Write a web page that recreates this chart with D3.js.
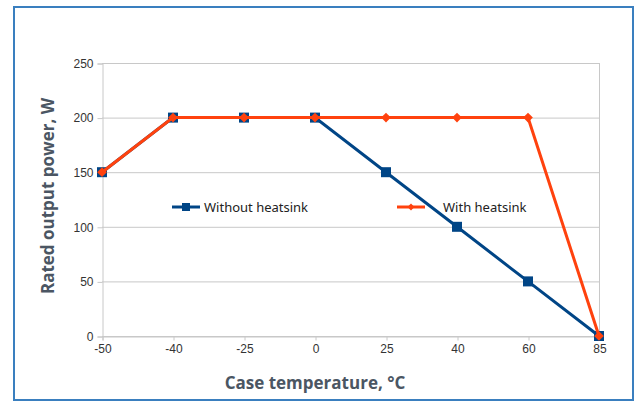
<!DOCTYPE html>
<html>
<head>
<meta charset="utf-8">
<script src="https://cdn.jsdelivr.net/npm/d3@7"></script>
<style>
  body { margin: 0; background: #fff; }
  svg { display: block; }
</style>
</head>
<body>
<div class="content"></div>
<script>
(function () {
    'use strict';
    var temps = ["-50", "-40", "-25", "0", "25", "40", "60", "85"],
        withoutHeatsink = [150, 200, 200, 200, 150, 100, 50, 0],
        withHeatsink = [150, 200, 200, 200, 200, 200, 200, 0],
        yTicks = [0, 50, 100, 150, 200, 250],
        seriesNames = ["Without heatsink", "With heatsink"];

    var width = 637, height = 402,
        plot = {left: 102, right: 599, top: 63, bottom: 336},
        colors = {blue: "#004586", orange: "#ff420e", grid: "#c8c8c8", frame: "#3a7fbf"};

    var svg = d3.select(".content").append("svg")
        .attr("width", width)
        .attr("height", height);

    // outer frame
    svg.append("rect")
        .attr("x", 14).attr("y", 7)
        .attr("width", 619).attr("height", 393)
        .attr("fill", "#fff")
        .attr("stroke", colors.frame)
        .attr("stroke-width", 2);

    var x = d3.scalePoint().domain(temps).range([plot.left, plot.right]).padding(0);
    var y = d3.scaleLinear().domain([0, 250]).range([plot.bottom, plot.top]);

    // grid
    svg.append("g").selectAll("line").data(yTicks).enter().append("line")
        .attr("x1", plot.left).attr("x2", plot.right)
        .attr("y1", function (d) { return y(d) + 0.5; })
        .attr("y2", function (d) { return y(d) + 0.5; })
        .attr("stroke", colors.grid);
    svg.append("line")
        .attr("x1", plot.right + 0.5).attr("x2", plot.right + 0.5)
        .attr("y1", plot.top).attr("y2", plot.bottom)
        .attr("stroke", colors.grid);

    // axes
    var yAxis = svg.append("g")
        .attr("transform", "translate(" + (plot.left + 0.5) + ",0.5)")
        .call(d3.axisLeft(y).tickValues(yTicks).tickSize(5).tickPadding(4));
    var xAxis = svg.append("g")
        .attr("transform", "translate(0.5," + (plot.bottom + 0.5) + ")")
        .call(d3.axisBottom(x).tickSize(4).tickPadding(4));
    [yAxis, xAxis].forEach(function (ax) {
        ax.select(".domain").attr("stroke", colors.grid);
        ax.selectAll(".tick line").attr("stroke", colors.grid);
        ax.selectAll("text")
            .attr("fill", "#333")
            .style("font-family", "Liberation Sans, Arial, sans-serif")
            .style("font-size", "12px");
    });

    // axis titles
    svg.append("text")
        .attr("x", 315).attr("y", 389)
        .attr("text-anchor", "middle")
        .attr("fill", "#4b5663")
        .style("font-family", "Open Sans, sans-serif")
        .style("font-weight", "bold")
        .style("font-size", "17px")
        .text("Case temperature, °C");
    svg.append("text")
        .attr("transform", "translate(54,196) rotate(-90)")
        .attr("text-anchor", "middle")
        .attr("fill", "#4b5663")
        .style("font-family", "Open Sans, sans-serif")
        .style("font-weight", "bold")
        .style("font-size", "17px")
        .text("Rated output power, W");

    var line = d3.line()
        .x(function (d, i) { return x(temps[i]); })
        .y(function (d) { return y(d); });

    // series: without heatsink
    svg.append("path").datum(withoutHeatsink)
        .attr("d", line)
        .attr("fill", "none")
        .attr("stroke", colors.blue)
        .attr("stroke-width", 3);
    svg.append("g").selectAll("rect").data(withoutHeatsink).enter().append("rect")
        .attr("x", function (d, i) { return x(temps[i]) - 5; })
        .attr("y", function (d) { return y(d) - 5; })
        .attr("width", 10).attr("height", 10)
        .attr("fill", colors.blue);

    // series: with heatsink
    var diamond = d3.symbol().type(d3.symbolDiamond2).size(60);
    svg.append("path").datum(withHeatsink)
        .attr("d", line)
        .attr("fill", "none")
        .attr("stroke", colors.orange)
        .attr("stroke-width", 3);
    svg.append("g").selectAll("path").data(withHeatsink).enter().append("path")
        .attr("d", diamond)
        .attr("transform", function (d, i) { return "translate(" + [x(temps[i]), y(d)] + ")"; })
        .attr("fill", colors.orange);

    // legend
    var legend = [
        {name: seriesNames[0], x: 172, color: colors.blue, marker: "square"},
        {name: seriesNames[1], x: 397, color: colors.orange, marker: "diamond"}
    ];
    var lg = svg.append("g").selectAll("g").data(legend).enter().append("g")
        .attr("transform", function (d) { return "translate(" + d.x + ",207)"; });
    lg.append("line")
        .attr("x1", 0).attr("x2", 28)
        .attr("stroke", function (d) { return d.color; })
        .attr("stroke-width", 3);
    lg.filter(function (d) { return d.marker === "square"; }).append("rect")
        .attr("x", 10).attr("y", -4).attr("width", 8).attr("height", 8)
        .attr("fill", function (d) { return d.color; });
    lg.filter(function (d) { return d.marker === "diamond"; }).append("path")
        .attr("d", d3.symbol().type(d3.symbolDiamond2).size(30))
        .attr("transform", "translate(14,0)")
        .attr("fill", function (d) { return d.color; });
    lg.append("text")
        .attr("x", function (d) { return d.marker === "square" ? 32 : 46; })
        .attr("y", 5)
        .attr("fill", "#222")
        .style("font-family", "Noto Sans, sans-serif")
        .style("font-size", "13px")
        .text(function (d) { return d.name; });
}());
</script>
</body>
</html>
